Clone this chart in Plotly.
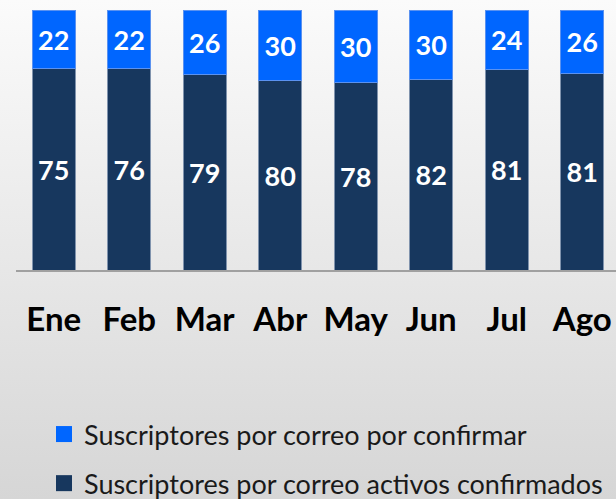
import base64
import plotly.graph_objects as go

months = ["Ene", "Feb", "Mar", "Abr", "May", "Jun", "Jul", "Ago"]
activos = [75, 76, 79, 80, 78, 82, 81, 81]
por_confirmar = [22, 22, 26, 30, 30, 30, 24, 26]
name_activos = "Suscriptores por correo activos confirmados"
name_confirmar = "Suscriptores por correo por confirmar"

DARK = "#17375E"
BLUE = "#0066FF"

W, H = 616, 499
ML, MR, MT, MB = 16, 0, 10, 229
pw, ph = W - ML - MR, H - MT - MB

fig = go.Figure()
fig.add_trace(go.Bar(
    x=months, y=activos, customdata=activos, name=name_activos,
    marker=dict(color=DARK, line=dict(color="#8093ad", width=1)),
    texttemplate="%{customdata}", textposition="inside", insidetextanchor="middle",
    textangle=0, textfont=dict(family="Lato", size=27, color="white", weight="bold"),
    showlegend=False, width=0.57,
))
fig.add_trace(go.Bar(
    x=months, y=por_confirmar, customdata=por_confirmar, name=name_confirmar,
    marker=dict(color=BLUE, line=dict(color="#5b92f0", width=1)),
    texttemplate="%{customdata}", textposition="inside", insidetextanchor="middle",
    textangle=0, textfont=dict(family="Lato", size=27, color="white", weight="bold"),
    showlegend=False, width=0.57,
))
# legend entries
for nm, col, grp in [(name_confirmar, BLUE, "a"), (name_activos, DARK, "b")]:
    fig.add_trace(go.Scatter(
        x=[months[0]], y=[None], mode="markers", name=nm, legendgroup=grp,
        marker=dict(symbol="square", size=16, color=col, line=dict(width=0)),
        hoverinfo="skip",
    ))

svg = (
    f'<svg xmlns="http://www.w3.org/2000/svg" width="{W}" height="{H}">'
    '<defs><linearGradient id="g" x1="0" y1="0" x2="0" y2="1">'
    '<stop offset="0" stop-color="#fbfbfb"/><stop offset="1" stop-color="#d6d6d6"/>'
    '</linearGradient></defs>'
    f'<rect width="{W}" height="{H}" fill="url(#g)"/></svg>'
)
src = "data:image/svg+xml;base64," + base64.b64encode(svg.encode()).decode()

fig.update_layout(
    width=W, height=H,
    margin=dict(l=ML, r=MR, t=MT, b=MB, pad=0, autoexpand=False),
    barmode="stack", barnorm="percent",
    paper_bgcolor="#e6e6e6", plot_bgcolor="rgba(0,0,0,0)",
    images=[dict(source=src, xref="paper", yref="paper",
                 x=-ML / pw, y=1 + MT / ph, sizex=W / pw, sizey=H / ph,
                 xanchor="left", yanchor="top", sizing="stretch", layer="below")],
    xaxis=dict(
        type="category", categoryorder="array", categoryarray=months,
        range=[-0.5, -0.5 + pw / 75.5], showline=True, linecolor="#a0a0a0", linewidth=2,
        showgrid=False, zeroline=False, ticks="", ticklabelstandoff=19,
        tickfont=dict(family="Lato", size=33, color="black", weight="bold"),
        fixedrange=True, automargin=False,
    ),
    yaxis=dict(range=[0, 100], visible=False, showgrid=False, zeroline=False, automargin=False),
    legend=dict(
        xref="container", yref="container", x=44 / W, y=1 - 410 / H,
        xanchor="left", yanchor="top", orientation="v",
        traceorder="grouped", tracegroupgap=11,
        font=dict(family="Lato", size=27, color="#1a1a1a"),
        bgcolor="rgba(0,0,0,0)",
    ),
    showlegend=True,
)

fig.write_html("out.html")
